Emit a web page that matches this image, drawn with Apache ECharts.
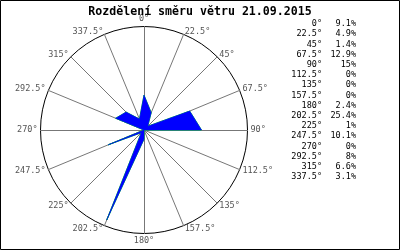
<!DOCTYPE html>
<html>
<head>
<meta charset="utf-8">
<script src="https://cdn.jsdelivr.net/npm/echarts@6/dist/echarts.min.js"></script>
<style>html,body{margin:0;padding:0;background:#fff}#c{width:400px;height:250px}</style>
</head>
<body>
<div id="c"></div>
<script>
const titleText = 'Rozdělení směru větru 21.09.2015';
const directions = [0, 22.5, 45, 67.5, 90, 112.5, 135, 157.5, 180, 202.5, 225, 247.5, 270, 292.5, 315, 337.5];
const values = [9.1, 4.9, 1.4, 12.9, 15, 0, 0, 0, 2.4, 25.4, 1, 10.1, 0, 8, 6.6, 3.1];
const radiusMax = 27;

const mono = '"DejaVu Sans Mono", "Liberation Mono", monospace';
const chart = echarts.init(document.getElementById('c'), null, {renderer: 'canvas'});

// radar runs counter-clockwise from top; reverse (keeping 0 first) for clockwise
const order = [0].concat(directions.map((d, i) => i).slice(1).reverse());
const indicators = order.map(i => ({name: directions[i] + '°', max: radiusMax, min: 0}));
const radarVals = order.map(i => values[i]);

const legendItems = [];
directions.forEach((d, i) => {
  const y = 24 + i * 10.2;
  legendItems.push({type: 'text', x: 322, y: y, style: {text: d + '°', fill: '#000', font: '8.5px ' + mono, textAlign: 'right', textVerticalAlign: 'middle'}});
  legendItems.push({type: 'text', x: 356, y: y, style: {text: values[i] + '%', fill: '#000', font: '8.5px ' + mono, textAlign: 'right', textVerticalAlign: 'middle'}});
});

chart.setOption({
  animation: false,
  backgroundColor: '#fff',
  title: {
    text: titleText, left: 'center', top: 1,
    textStyle: {fontFamily: mono, fontSize: 11.6, fontWeight: 'bold', color: '#000'}
  },
  radar: {
    center: [144, 130],
    radius: 103.5,
    startAngle: 90,
    shape: 'circle',
    splitNumber: 1,
    indicator: indicators,
    nameGap: 3,
    axisName: {color: '#555', fontFamily: mono, fontSize: 8.5},
    axisLine: {lineStyle: {color: '#777', width: 1}},
    splitLine: {lineStyle: {color: '#000', width: 1}},
    splitArea: {show: false},
    axisTick: {show: false},
    axisLabel: {show: false}
  },
  graphic: [
    {type: 'rect', shape: {x: 0.5, y: 0.5, width: 399, height: 249}, style: {fill: null, stroke: '#000', lineWidth: 1}, z: 100}
  ].concat(legendItems),
  series: [
    {type: 'radar', symbol: 'none', z: 2,
     lineStyle: {color: '#00ff00', width: 1},
     data: [{value: radarVals}]},
    {type: 'radar', symbol: 'none', z: 3,
     lineStyle: {color: '#0000ff', width: 0.6},
     areaStyle: {color: '#0000ff', opacity: 1},
     data: [{value: radarVals}]}
  ]
});
</script>
</body>
</html>
